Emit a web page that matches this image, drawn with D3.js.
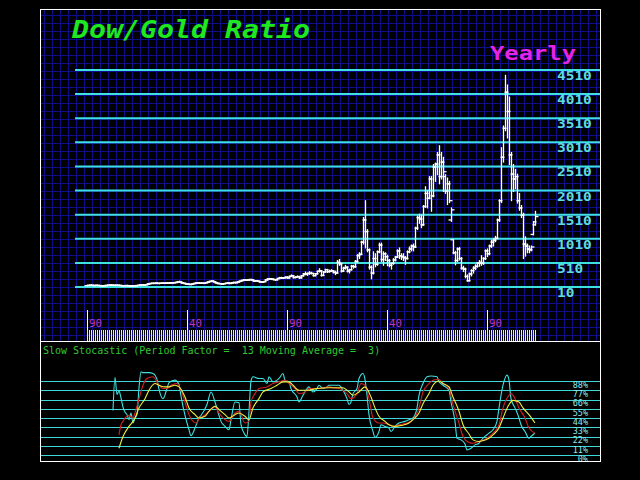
<!DOCTYPE html>
<html><head><meta charset="utf-8">
<script src="https://cdn.jsdelivr.net/npm/d3@7"></script>
<style>html,body{margin:0;padding:0;background:#000;overflow:hidden}</style>
</head><body>
<script>
// ---------- DATA ----------
const startYear = 1790; // first yearly bar
const openVals = [
 38,42,46,44,40,44,42,38,36,38, 42,45,50,48,44,46,44,42,36,38, 40,38,34,32,38,36,44,48,55,52,
 58,72,82,86,84,90,84,86,90,88, 92,90,94,96,100,104,120,114,94,84, 74,68,62,70,82,92,94,88,90,86,
 100,114,126,134,118,96,82,80,70,80, 86,92,84,96,104,100,116,130,146,156, 150,158,164,156,134,140,130,116,110,122,
 156,176,180,172,164,160,186,204,194,200, 214,198,230,244,206,214,226,200,244,280, 276,292,296,290,246,284,334,346,250,322,
 370,330,336,346,316,300,520,490,340,400, 420,340,370,440,430,540,660,690,940,1400, 1160,780,420,300,600,480,740,880,580,700,
 640,560,460,500,570,630,760,660,640,620, 600,740,800,860,840,1230,1450,1420,1300,1680, 1950,1850,2250,1900,2500,2560,2750,2300,2600,2300,
 2000,2150,1400,990,720,560,800,600,400,380, 230,140,280,350,400,440,500,520,500,600, 760,700,860,940,980,1020,1400,1800,2700,3300,
 4050,3650,2750,2350,2250,2300,1800,1650,1500,900, 860,800,780,1100,1300];
const highVals = [
 48,52,55,50,48,50,46,44,42,46, 50,54,56,52,50,52,50,46,42,44, 46,42,40,40,44,46,52,58,62,60,
 78,85,92,94,95,98,90,95,96,95, 100,98,102,106,110,125,132,118,100,90, 80,74,72,86,96,100,98,96,94,104,
 118,130,140,138,120,100,90,84,84,90, 96,96,100,110,112,120,135,150,162,165, 162,170,172,160,145,146,134,122,126,160,
 182,190,186,178,168,190,210,212,206,220, 224,236,262,250,222,240,232,250,290,320, 300,330,316,294,290,340,390,352,330,380,
 376,360,370,350,340,560,580,500,420,460, 430,380,460,460,560,680,720,960,1450,1800, 1200,800,450,740,700,760,920,920,740,720,
 670,580,500,600,640,780,820,700,700,640, 760,840,880,900,1250,1480,1520,1500,1700,2090, 2000,2300,2300,2550,2580,2800,2940,2800,2700,2340,
 2270,2200,1650,990,750,820,830,620,440,400, 260,300,370,430,470,520,560,660,620,780, 800,880,980,1010,1060,1420,1820,2900,3350,4400,
 4200,3950,2800,2550,2450,2350,1950,1700,1540,1050, 900,860,860,1370,1580];
const lowVals = [
 34,38,40,36,35,38,34,32,30,34, 38,42,44,40,38,40,38,34,30,32, 34,30,28,28,30,34,40,44,48,46,
 55,68,76,78,80,80,76,82,84,82, 86,84,88,90,92,100,108,90,80,70, 64,58,56,68,78,86,84,82,80,84,
 96,108,120,112,92,78,74,64,66,76, 80,76,80,88,90,96,110,124,140,145, 144,150,150,128,126,124,110,104,106,118,
 150,168,164,158,146,156,180,186,188,196, 190,194,226,196,200,210,186,196,236,262, 250,270,280,236,240,280,320,236,246,316,
 310,316,330,300,266,296,460,320,330,380, 320,300,360,400,420,520,600,680,900,820, 740,380,180,280,430,460,720,540,460,560,
 450,430,380,480,550,620,600,580,560,480, 590,720,760,760,830,1200,1330,1240,1290,1660, 1650,1840,1580,1880,2200,2340,2150,2250,1990,1950,
 1720,1760,1370,700,470,540,570,380,330,200, 130,135,240,300,370,420,440,460,480,580, 640,680,830,860,950,1010,1370,1760,2600,3250,
 3100,2550,1800,1990,2050,1750,1600,1450,600,650, 720,720,760,1090,1290];
const closeVals = [
 42,46,44,40,44,42,38,36,38,42, 45,50,48,44,46,44,42,36,38,40, 38,34,32,38,36,44,48,55,52,58,
 72,82,86,84,90,84,86,90,88,92, 90,94,96,100,104,120,114,94,84,74, 68,62,70,82,92,94,88,90,86,100,
 114,126,134,118,96,82,80,70,80,86, 92,84,96,104,100,116,130,146,156,150, 158,164,156,134,140,130,116,110,122,156,
 176,180,172,164,160,186,204,194,200,214, 198,230,244,206,214,226,200,244,280,276, 292,296,290,246,284,334,346,250,322,370,
 330,336,346,316,300,520,490,340,400,420, 340,370,440,430,540,660,690,940,1400,1160, 780,420,300,600,480,740,880,580,700,640,
 560,460,500,570,630,760,660,640,620,600, 740,800,860,840,1230,1450,1420,1300,1680,1950, 1850,2250,1900,2500,2560,2750,2300,2600,2400,2000,
 2150,1800,1610,720,560,800,600,400,380,230, 140,280,350,400,440,500,520,500,600,760, 700,860,940,980,1020,1400,1800,2700,3300,4050,
 3650,2750,2350,2250,2300,1800,1650,1500,900,860, 800,780,840,1360,1470];

const priceTicks = [10,510,1010,1510,2010,2510,3010,3510,4010,4510];
const eraTickYears = [1790,1840,1890,1940,1990];
const eraTickLabels = ["90","40","90","40","90"];
const stochLevels = [0,11,22,33,44,55,66,77,88];

const kYears = [1803,1804,1805,1806,1807,1808,1809,1810,1811,1812,1813,1814,1815,1816,1817,1818,1819,1821,1823,1825,1826,1828,1830,1831,1834,1836,1837,1839,1841,1842,1844,1846,1847,1850,1852,1854,1856,1857,1859,1861,1862,1864,1866,1867,1869,1870,1871,1872,1873,1876,1878,1880,1881,1883,1885,1886,1888,1889,1891,1892,1895,1896,1898,1900,1901,1903,1905,1906,1908,1910,1911,1913,1916,1918,1920,1921,1922,1923,1925,1926,1928,1929,1930,1931,1933,1934,1936,1937,1939,1941,1942,1944,1946,1949,1951,1953,1955,1956,1958,1960,1962,1965,1966,1968,1971,1972,1974,1975,1977,1979,1980,1982,1984,1986,1988,1991,1993,1995,1996,1998,2000,2001,2002,2004,2006,2007,2009,2011,2012,2014];
const kVals = [53,92,72,76,68,57,51,48,42,50,38,44,48,80,99,98,98,98,97,90,78,67,79,86,89,84,70,47,30,23,32,44,47,60,75,63,47,40,34,30,42,63,62,36,24,22,52,88,93,91,91,85,93,87,89,91,97,89,87,79,69,63,71,79,81,75,79,83,79,81,83,83,83,77,67,60,63,73,79,91,97,90,71,48,28,21,28,36,34,32,28,34,38,40,42,44,56,71,85,93,94,93,87,83,77,63,40,20,18,13,6,8,12,14,20,26,30,40,56,83,95,89,67,56,44,36,28,20,22,26];

const slowYears = [1806,1807,1808,1809,1811,1813,1814,1816,1818,1820,1823,1825,1826,1828,1830,1832,1835,1837,1839,1841,1843,1845,1846,1848,1851,1854,1856,1859,1861,1864,1866,1869,1871,1872,1874,1876,1880,1883,1886,1889,1891,1894,1896,1899,1901,1906,1911,1913,1916,1920,1922,1925,1927,1929,1931,1933,1936,1938,1941,1943,1946,1950,1953,1956,1958,1961,1963,1966,1968,1971,1973,1976,1978,1981,1983,1986,1990,1993,1996,1998,2001,2002,2004,2006,2009,2011,2014];
const slowVals = [24,36,40,44,47,44,50,67,83,91,93,87,83,79,79,83,85,77,63,48,40,38,44,46,52,57,50,42,40,50,52,38,40,63,73,79,81,85,87,89,85,79,73,75,79,79,81,80,79,73,67,73,85,83,67,44,38,38,36,34,36,38,42,56,75,85,89,90,85,79,60,38,22,15,14,16,20,26,36,56,71,73,67,56,44,32,26];

const dYears = [1806,1808,1811,1813,1814,1816,1819,1821,1824,1826,1829,1831,1834,1836,1839,1841,1844,1846,1849,1851,1854,1856,1859,1861,1864,1866,1869,1871,1873,1876,1878,1882,1885,1888,1891,1893,1896,1900,1905,1911,1913,1918,1921,1923,1926,1929,1932,1934,1936,1939,1941,1944,1947,1951,1953,1956,1958,1961,1963,1966,1968,1971,1973,1976,1978,1981,1983,1986,1988,1991,1993,1996,1998,2001,2003,2006,2008,2011,2014];
const dVals = [8,22,34,40,44,56,67,77,85,83,81,81,83,81,69,56,48,44,46,52,58,54,48,44,48,50,46,42,56,67,75,79,83,87,87,83,77,77,79,80,80,80,75,71,75,81,69,56,46,40,36,34,35,38,42,50,61,73,83,88,85,81,69,52,36,25,18,16,17,20,24,32,44,60,65,63,56,48,38];

// ---------- DRAW ----------
const W = 640, H = 480;
const svg = d3.select("body").append("svg").attr("width", W).attr("height", H)
  .style("background", "#000");
const mono = "'DejaVu Sans Mono','Liberation Mono',monospace";

const frameL = 40, frameR = 601, frameT = 9, divY = 341, frameB = 461;

// upper panel blue grid
const grid = svg.append("g").attr("shape-rendering", "crispEdges").attr("stroke", "#0e0e8c").attr("stroke-width", 1);
grid.selectAll("line.v").data(d3.range(frameL + 4, frameR, 8)).join("line")
  .attr("x1", d => d + 0.5).attr("x2", d => d + 0.5).attr("y1", frameT).attr("y2", divY);
grid.selectAll("line.h").data(d3.range(frameT + 6, divY, 8)).join("line")
  .attr("y1", d => d + 0.5).attr("y2", d => d + 0.5).attr("x1", frameL).attr("x2", frameR);

const years = d3.range(startYear, startYear + openVals.length);
const x = d3.scaleLinear().domain([1790, 2014]).range([87, 535]);
const y = d3.scaleLinear().domain([10, 4510]).range([287, 70]);

// cyan price level lines
svg.append("g").selectAll("line").data(priceTicks).join("line")
  .attr("x1", 75).attr("x2", frameR).attr("y1", d => y(d)).attr("y2", d => y(d))
  .attr("stroke", "#3fe0e0").attr("stroke-width", 2);
svg.append("g").selectAll("text").data(priceTicks).join("text")
  .attr("x", 557).attr("y", d => y(d) + 10)
  .attr("font-family", mono).attr("font-weight", "bold").attr("font-size", 11.5)
  .attr("fill", "#5fdcdc")
  .attr("textLength", d => String(d).length * 8.7).attr("lengthAdjust", "spacingAndGlyphs")
  .text(d => d);

// title
svg.append("text").attr("x", 72).attr("y", 38).attr("font-family", mono)
  .attr("font-weight", "bold").attr("font-style", "italic").attr("font-size", 24)
  .attr("fill", "#1ee81e").attr("textLength", 238).attr("lengthAdjust", "spacingAndGlyphs")
  .text("Dow/Gold Ratio");
svg.append("text").attr("x", 490).attr("y", 60).attr("font-family", mono)
  .attr("font-weight", "bold").attr("font-size", 19)
  .attr("fill", "#e624e6").attr("textLength", 86).attr("lengthAdjust", "spacingAndGlyphs")
  .text("Yearly");

// era ticks + labels
svg.append("g").selectAll("line").data(eraTickYears).join("line")
  .attr("x1", d => x(d) + 0.5).attr("x2", d => x(d) + 0.5).attr("y1", 310).attr("y2", 331)
  .attr("stroke", "#fff").attr("stroke-width", 1).attr("shape-rendering", "crispEdges");
svg.append("g").selectAll("text").data(eraTickYears).join("text")
  .attr("x", d => x(d) + 2).attr("y", d => 326.5)
  .attr("font-family", mono).attr("font-size", 11).attr("fill", "#c436c4")
  .attr("textLength", 13).attr("lengthAdjust", "spacingAndGlyphs")
  .text((d, i) => eraTickLabels[i]);

// yearly hatch strip
svg.append("g").attr("shape-rendering", "crispEdges").selectAll("line").data(years).join("line")
  .attr("x1", d => x(d) + 0.5).attr("x2", d => x(d) + 0.5).attr("y1", 330).attr("y2", 341)
  .attr("stroke", "#e8e8e8").attr("stroke-width", 1);

// OHLC bars
const bars = svg.append("g").attr("stroke", "#fff").attr("stroke-width", 1.3);
const bd = years.map((yr, i) => ({ yr, o: openVals[i], h: highVals[i], l: lowVals[i], c: closeVals[i] }));
bars.selectAll("line.hl").data(bd).join("line").attr("class", "hl")
  .attr("x1", d => x(d.yr) + 0.5).attr("x2", d => x(d.yr) + 0.5)
  .attr("y1", d => y(d.h) - 0.5).attr("y2", d => y(d.l) + 0.5);
bars.selectAll("line.op").data(bd).join("line").attr("class", "op")
  .attr("x1", d => x(d.yr) - 2.5).attr("x2", d => x(d.yr) + 0.5)
  .attr("y1", d => y(d.o)).attr("y2", d => y(d.o));
bars.selectAll("line.cl").data(bd).join("line").attr("class", "cl")
  .attr("x1", d => x(d.yr) + 0.5).attr("x2", d => x(d.yr) + 3.5)
  .attr("y1", d => y(d.c)).attr("y2", d => y(d.c));

// lower panel
svg.append("rect").attr("x", frameL).attr("y", divY).attr("width", frameR - frameL).attr("height", frameB - divY).attr("fill", "#000");
const ys = d3.scaleLinear().domain([0, 88]).range([455, 381]);
svg.append("g").selectAll("line").data(stochLevels).join("line")
  .attr("x1", frameL).attr("x2", frameR).attr("y1", d => Math.round(ys(d)) + 0.5).attr("y2", d => Math.round(ys(d)) + 0.5)
  .attr("stroke", "#3fd8d8").attr("stroke-width", 1).attr("shape-rendering", "crispEdges");
svg.append("g").selectAll("text").data(stochLevels).join("text")
  .attr("x", 588).attr("y", d => ys(d) + 6.8).attr("text-anchor", "end")
  .attr("font-family", mono).attr("font-size", 8.5).attr("fill", "#8ee8e8")
  .text(d => d + "%");
svg.append("text").attr("x", 43).attr("y", 353.5).attr("font-family", mono)
  .attr("font-size", 10).attr("fill", "#30c830").attr("xml:space", "preserve")
  .style("white-space", "pre")
  .text("Slow Stocastic (Period Factor =  13 Moving Average =  3)");

const line = d3.line().x(d => x(d[0])).y(d => ys(d[1])).curve(d3.curveMonotoneX);
const series = [
  { yrs: kYears, vals: kVals, color: "#3fe0e0" },
  { yrs: slowYears, vals: slowVals, color: "#d42020" },
  { yrs: dYears, vals: dVals, color: "#f0f040" }
];
svg.append("g").selectAll("path").data(series).join("path")
  .attr("d", s => line(s.yrs.map((yr, i) => [yr, s.vals[i]])))
  .attr("fill", "none").attr("stroke", s => s.color).attr("stroke-width", 1.1);

// frame
const fr = svg.append("g").attr("stroke", "#fff").attr("fill", "none").attr("shape-rendering", "crispEdges");
fr.append("rect").attr("x", frameL + 0.5).attr("y", frameT + 0.5).attr("width", frameR - frameL - 1).attr("height", frameB - frameT);
fr.append("line").attr("x1", frameL).attr("x2", frameR).attr("y1", divY + 0.5).attr("y2", divY + 0.5);
</script>
</body></html>
